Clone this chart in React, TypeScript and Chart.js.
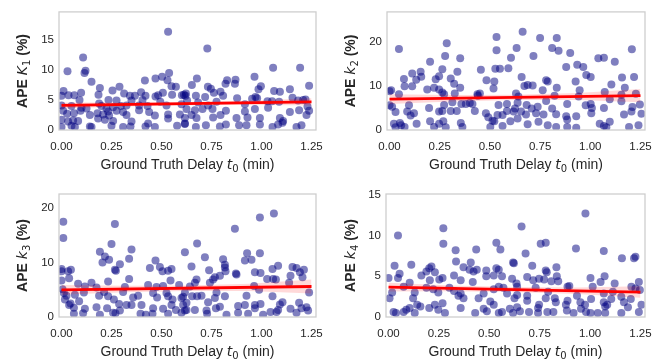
import React, { useEffect, useRef } from "react";
import { Chart, registerables } from "chart.js";

Chart.register(...registerables);

// ---------- data ----------
const X_TICKS = [0, 0.25, 0.5, 0.75, 1.0, 1.25];
const K1_TICKS = [0, 5, 10, 15];
const K2_TICKS = [0, 10, 20];
const K3_TICKS = [0, 10, 20];
const K4_TICKS = [0, 5, 10, 15];

const FIT_X = [0, 1.25];
const BAND_X = [0, 0.3125, 0.625, 0.9375, 1.25];

const K1_FIT = [4.1, 4.7];
const K1_LO = [3.6, 3.93, 4.13, 4.23, 4.1];
const K1_HI = [4.6, 4.57, 4.67, 4.87, 5.3];

const K2_FIT = [7.0, 7.8];
const K2_LO = [5.9, 6.45, 6.8, 6.8, 6.3];
const K2_HI = [8.1, 7.95, 8.0, 8.4, 9.3];

const K3_FIT = [5.0, 5.6];
const K3_LO = [4.1, 4.55, 4.8, 4.8, 4.3];
const K3_HI = [5.9, 5.75, 5.8, 6.1, 6.9];

const K4_FIT = [3.67, 3.06];
const K4_LO = [3.12, 3.17, 3.07, 2.81, 2.36];
const K4_HI = [4.22, 3.87, 3.67, 3.61, 3.76];

const K1_POINTS: [number, number][] = [
  [0.533, 16.4], [0.108, 12.1], [0.03, 9.8], [0.12, 9.9], [0.115, 9.5], [0.15, 8.06], [0.417, 8.27], [0.47, 8.6],
  [0.503, 8.9], [0.538, 9.5], [0.53, 8.3], [0.55, 7.3], [0.572, 7.2], [0.192, 7.0], [0.29, 7.2], [0.255, 6.6],
  [0.185, 5.9], [0.01, 6.5], [0.0, 5.7], [0.035, 5.8], [0.064, 5.8], [0.098, 6.2], [0.09, 5.0], [0.313, 6.1],
  [0.342, 5.7], [0.367, 5.7], [0.398, 6.3], [0.42, 5.7], [0.47, 5.6], [0.483, 5.8], [0.507, 6.2], [0.553, 5.9],
  [0.602, 5.8], [0.622, 6.1], [0.235, 5.0], [0.275, 4.9], [0.35, 4.9], [0.405, 5.0], [0.494, 4.7], [0.188, 4.4],
  [0.0, 4.1], [0.05, 4.0], [0.1, 3.7], [0.125, 3.6], [0.2, 4.0], [0.225, 3.6], [0.258, 3.8], [0.297, 4.0],
  [0.325, 4.1], [0.388, 4.1], [0.43, 4.0], [0.525, 4.1], [0.6, 4.3], [0.008, 3.2], [0.028, 2.7], [0.062, 2.8],
  [0.095, 3.2], [0.142, 2.5], [0.18, 2.8], [0.208, 2.6], [0.233, 3.1], [0.238, 2.4], [0.275, 3.2], [0.308, 3.0],
  [0.325, 2.5], [0.388, 3.3], [0.438, 3.0], [0.467, 2.4], [0.533, 2.6], [0.592, 2.6], [0.0, 1.7], [0.033, 1.4],
  [0.058, 1.6], [0.083, 1.5], [0.183, 1.9], [0.217, 1.7], [0.258, 1.5], [0.35, 1.4], [0.433, 1.1], [0.533, 1.9],
  [0.617, 2.0], [0.0, 0.5], [0.05, 0.7], [0.067, 0.5], [0.142, 0.6], [0.15, 0.5], [0.25, 0.7], [0.308, 0.5],
  [0.345, 0.6], [0.42, 0.6], [0.467, 0.5], [0.578, 0.7], [0.617, 1.0],
  [0.729, 13.6], [1.058, 10.4], [1.193, 10.4], [0.677, 8.6], [0.965, 8.9], [0.87, 8.4], [0.828, 8.3], [0.82, 7.7],
  [0.867, 7.7], [0.652, 7.5], [0.732, 7.2], [0.747, 6.9], [0.762, 6.2], [0.795, 6.4], [0.808, 5.7], [0.997, 7.3],
  [0.985, 6.8], [1.063, 6.5], [1.092, 6.4], [1.142, 6.8], [1.238, 7.4], [0.612, 5.9], [0.62, 5.7], [0.672, 5.7],
  [0.718, 5.5], [0.878, 5.3], [0.953, 5.2], [0.97, 5.5], [0.978, 5.3], [1.03, 4.8], [1.053, 4.8], [1.088, 4.7],
  [1.155, 5.4], [1.183, 4.9], [1.208, 5.0], [1.22, 5.1], [0.628, 4.9], [0.683, 4.6], [0.733, 4.1], [0.775, 4.7],
  [0.917, 4.3], [0.625, 3.5], [0.667, 3.3], [0.705, 3.5], [0.755, 3.5], [0.822, 3.2], [0.917, 3.1], [0.967, 3.5],
  [1.033, 3.7], [1.142, 3.0], [1.188, 3.3], [1.23, 3.9], [1.238, 3.2], [0.65, 2.5], [0.675, 2.0], [0.758, 2.1],
  [0.795, 2.5], [0.875, 2.0], [0.93, 2.1], [0.992, 2.0], [1.092, 2.0], [1.108, 1.5], [0.617, 1.1], [0.672, 0.5],
  [0.722, 0.8], [0.792, 0.6], [0.822, 0.9], [0.888, 0.8], [0.925, 0.8], [0.992, 0.9], [1.055, 0.5], [1.083, 0.9],
  [1.105, 1.2], [1.175, 0.5], [1.2, 0.8], [1.225, 2.5],
];

const K2_POINTS: [number, number][] = [
  [0.533, 21.1], [0.285, 19.7], [0.047, 18.4], [0.533, 18.1], [0.605, 16.4], [0.277, 16.8], [0.202, 15.5], [0.352, 16.3],
  [0.263, 13.8], [0.455, 13.7], [0.527, 13.9], [0.55, 13.9], [0.592, 14.0], [0.338, 13.2], [0.113, 12.8], [0.155, 13.2],
  [0.158, 12.1], [0.133, 11.4], [0.072, 11.6], [0.247, 12.2], [0.23, 11.5], [0.305, 11.7], [0.322, 10.5], [0.352, 9.6],
  [0.483, 11.3], [0.522, 11.0], [0.113, 9.9], [0.075, 9.9], [0.188, 9.2], [0.222, 9.6], [0.247, 9.2], [0.263, 8.5],
  [0.272, 8.1], [0.008, 9.0], [0.047, 8.1], [0.325, 8.3], [0.438, 8.1], [0.45, 8.3], [0.44, 7.8], [0.518, 9.4],
  [0.0, 8.8], [0.0, 5.6], [0.013, 5.3], [0.03, 4.1], [0.097, 5.6], [0.105, 3.3], [0.122, 3.8], [0.197, 5.0],
  [0.272, 5.7], [0.263, 4.3], [0.247, 4.2], [0.313, 6.3], [0.358, 5.9], [0.38, 5.9], [0.4, 6.1], [0.413, 5.9],
  [0.305, 4.3], [0.335, 4.3], [0.425, 4.3], [0.48, 3.8], [0.492, 2.9], [0.513, 2.1], [0.522, 2.0], [0.538, 3.4],
  [0.543, 5.7], [0.563, 3.4], [0.585, 4.3], [0.625, 4.9], [0.585, 5.9], [0.618, 4.2], [0.022, 1.4], [0.052, 1.6],
  [0.058, 1.1], [0.135, 1.4], [0.03, 0.6], [0.075, 0.7], [0.202, 2.0], [0.222, 0.7], [0.247, 1.4], [0.268, 2.0],
  [0.28, 0.6], [0.355, 1.6], [0.363, 0.7], [0.502, 0.7], [0.563, 0.9], [0.602, 2.0], [0.088, 4.2],
  [0.663, 22.3], [0.75, 20.9], [0.833, 20.9], [0.81, 18.6], [0.842, 18.0], [0.633, 18.6], [0.717, 16.8], [0.9, 17.5],
  [1.04, 16.3], [1.068, 16.4], [1.122, 15.5], [1.207, 18.3], [0.88, 14.3], [0.935, 14.8], [0.965, 14.3], [0.98, 12.5],
  [1.002, 12.0], [0.927, 11.0], [0.658, 12.0], [0.78, 11.3], [0.788, 11.0], [0.688, 10.2], [0.713, 10.1], [0.672, 10.0],
  [0.833, 9.6], [0.763, 9.0], [1.105, 10.3], [1.158, 11.9], [1.218, 12.0], [1.172, 9.6], [1.155, 8.0], [1.227, 8.2],
  [1.072, 8.6], [0.947, 9.0], [0.63, 8.3], [0.642, 7.6], [0.822, 7.8], [0.942, 7.6], [1.097, 7.0], [1.247, 5.8],
  [1.21, 5.2], [1.155, 6.5], [0.638, 6.2], [0.683, 5.7], [0.708, 4.9], [0.738, 5.3], [0.78, 6.6], [0.81, 4.9],
  [0.885, 5.9], [0.977, 5.6], [1.002, 5.9], [1.008, 5.0], [1.068, 5.0], [0.655, 4.2], [0.68, 3.5], [0.73, 3.8],
  [0.767, 3.5], [0.83, 3.6], [0.88, 3.1], [0.93, 3.1], [1.005, 3.8], [1.168, 3.5], [1.205, 4.2], [1.255, 3.7],
  [0.885, 2.4], [0.742, 1.9], [0.788, 1.1], [0.688, 1.3], [0.638, 2.6], [0.83, 0.7], [0.885, 0.7], [1.047, 1.4],
  [1.068, 0.9], [1.097, 1.9], [1.08, 0.6], [1.193, 0.7], [1.24, 1.1], [0.93, 0.5],
];

const K3_POINTS: [number, number][] = [
  [0.009, 17.5], [0.267, 17.1], [0.009, 14.5], [0.25, 13.4], [0.192, 12.0], [0.35, 12.4], [0.217, 11.1], [0.205, 10.0],
  [0.238, 10.5], [0.338, 10.7], [0.292, 9.7], [0.47, 10.4], [0.442, 9.0], [0.492, 9.2], [0.505, 8.4], [0.533, 8.5],
  [0.55, 8.8], [0.617, 11.9], [0.267, 8.7], [0.272, 8.5], [0.0, 8.8], [0.0, 8.4], [0.033, 8.4], [0.047, 8.7],
  [0.0, 6.7], [0.038, 7.1], [0.338, 7.0], [0.233, 6.5], [0.15, 6.3], [0.083, 6.1], [0.117, 5.6], [0.433, 5.9],
  [0.508, 5.7], [0.475, 5.5], [0.545, 6.7], [0.588, 5.9], [0.005, 5.1], [0.012, 4.4], [0.025, 3.9], [0.067, 4.1],
  [0.112, 4.5], [0.175, 5.4], [0.188, 3.9], [0.213, 4.6], [0.233, 3.8], [0.262, 3.2], [0.308, 4.6], [0.317, 5.5],
  [0.358, 3.6], [0.383, 3.9], [0.458, 4.4], [0.478, 3.6], [0.525, 4.4], [0.533, 3.8], [0.555, 3.2], [0.6, 3.5],
  [0.017, 3.2], [0.038, 2.2], [0.045, 2.5], [0.062, 1.7], [0.088, 2.9], [0.117, 1.5], [0.175, 1.8], [0.228, 1.6],
  [0.288, 2.4], [0.325, 2.2], [0.35, 2.2], [0.4, 2.2], [0.458, 1.6], [0.508, 1.5], [0.55, 2.2], [0.572, 1.3],
  [0.608, 2.2], [0.062, 0.6], [0.108, 0.7], [0.192, 0.4], [0.258, 0.8], [0.27, 0.7], [0.292, 1.2], [0.395, 0.6],
  [0.422, 0.4], [0.455, 0.6], [0.533, 0.6], [0.6, 0.8], [0.625, 1.3],
  [1.062, 19.0], [0.992, 18.3], [0.867, 16.2], [0.678, 13.5], [0.717, 11.0], [0.808, 10.6], [0.928, 11.7], [0.992, 11.7],
  [0.917, 10.4], [0.95, 10.5], [0.817, 9.6], [0.817, 9.1], [0.82, 8.4], [0.738, 8.6], [0.65, 9.3], [0.872, 8.0],
  [0.875, 7.8], [0.967, 8.2], [0.995, 8.1], [1.055, 8.8], [1.083, 9.4], [1.155, 9.2], [1.175, 9.0], [1.192, 8.2],
  [1.212, 8.7], [1.205, 7.3], [1.145, 7.6], [1.028, 7.0], [1.058, 7.0], [1.072, 6.9], [0.675, 6.9], [0.667, 6.3],
  [0.742, 6.3], [0.758, 6.9], [0.767, 7.3], [0.792, 7.6], [1.138, 6.3], [0.642, 5.6], [0.963, 5.7], [0.988, 5.0],
  [0.617, 4.5], [0.775, 4.5], [1.238, 4.5], [0.608, 3.7], [0.653, 3.8], [0.678, 3.8], [0.7, 3.9], [0.733, 2.7],
  [0.767, 3.5], [0.817, 3.8], [0.925, 3.9], [1.055, 3.8], [1.105, 2.7], [1.092, 2.3], [1.188, 2.6], [0.625, 2.6],
  [0.617, 1.2], [0.667, 1.3], [0.725, 1.2], [0.772, 1.6], [0.792, 1.9], [0.883, 2.0], [0.917, 2.2], [0.967, 2.2],
  [0.967, 1.6], [0.995, 2.4], [1.045, 0.9], [1.075, 0.9], [1.083, 1.3], [1.145, 1.5], [1.2, 1.6], [1.225, 1.8],
  [1.233, 1.2], [0.825, 0.4], [0.728, 0.6], [0.933, 0.6], [1.008, 0.4], [1.175, 0.8], [0.883, 0.8],
];

const K4_POINTS: [number, number][] = [
  [0.272, 10.9], [0.047, 10.0], [0.272, 9.0], [0.535, 9.1], [0.555, 8.3], [0.333, 8.2], [0.435, 8.3], [0.335, 6.8],
  [0.408, 6.7], [0.03, 6.3], [0.113, 6.4], [0.202, 6.0], [0.213, 6.2], [0.372, 6.1], [0.402, 5.8], [0.422, 5.6],
  [0.438, 5.8], [0.485, 5.7], [0.535, 6.0], [0.547, 5.8], [0.618, 6.7], [0.188, 5.6], [0.23, 5.5], [0.055, 5.3],
  [0.047, 4.8], [0.0, 4.8], [0.163, 5.1], [0.268, 4.8], [0.325, 5.1], [0.358, 4.5], [0.418, 4.3], [0.485, 5.0],
  [0.522, 5.1], [0.563, 5.0], [0.613, 4.7], [0.205, 4.5], [0.252, 4.6], [0.105, 4.2], [0.075, 3.7], [0.13, 3.0],
  [0.018, 3.0], [0.005, 2.3], [0.122, 2.3], [0.188, 3.6], [0.222, 3.4], [0.247, 3.0], [0.302, 3.6], [0.325, 3.2],
  [0.347, 2.6], [0.372, 2.3], [0.358, 2.9], [0.447, 2.3], [0.472, 2.9], [0.522, 3.4], [0.547, 3.7], [0.57, 3.6],
  [0.588, 2.9], [0.625, 2.3], [0.142, 1.5], [0.158, 1.3], [0.105, 1.1], [0.088, 0.9], [0.025, 0.6], [0.037, 0.5],
  [0.075, 0.6], [0.13, 0.5], [0.202, 1.1], [0.23, 1.5], [0.247, 0.9], [0.28, 0.5], [0.268, 1.7], [0.358, 1.1],
  [0.43, 0.5], [0.472, 1.0], [0.488, 0.7], [0.505, 1.9], [0.522, 1.5], [0.547, 0.5], [0.563, 0.6], [0.602, 1.0],
  [0.618, 0.5], [0.66, 11.1],
  [0.977, 12.7], [0.755, 9.0], [0.78, 9.1], [0.93, 8.4], [1.068, 8.1], [0.68, 7.8], [1.158, 7.2], [1.218, 7.2],
  [1.225, 7.4], [0.622, 6.6], [0.713, 6.3], [0.78, 5.7], [0.785, 5.5], [0.833, 6.1], [0.688, 4.9], [0.718, 4.5],
  [0.747, 4.7], [0.772, 4.6], [0.808, 4.4], [0.835, 5.0], [0.842, 4.4], [0.888, 3.7], [0.897, 3.8], [1.002, 4.8],
  [1.013, 3.7], [1.072, 5.0], [1.052, 4.3], [1.122, 4.1], [1.205, 3.7], [1.225, 3.5], [1.242, 4.3], [1.247, 3.3],
  [0.635, 4.1], [0.638, 3.7], [0.73, 3.6], [0.792, 3.1], [0.935, 2.6], [1.068, 2.9], [1.113, 3.1], [1.155, 2.5],
  [1.202, 2.2], [0.638, 2.7], [0.688, 2.6], [0.688, 2.0], [0.78, 2.3], [0.825, 2.3], [0.83, 1.8], [0.747, 1.5],
  [0.888, 2.0], [0.88, 1.5], [0.952, 1.8], [0.975, 1.5], [1.005, 2.2], [1.075, 1.3], [1.085, 1.5], [1.068, 1.8],
  [1.105, 2.2], [1.168, 1.8], [1.188, 1.2], [1.255, 1.5], [0.638, 1.2], [0.652, 0.7], [0.697, 0.6], [0.742, 1.1],
  [0.742, 0.5], [0.788, 0.6], [0.818, 0.6], [0.885, 0.8], [0.918, 0.5], [0.955, 1.0], [0.98, 0.6], [1.002, 0.5],
  [1.038, 0.5], [1.075, 0.5], [1.155, 0.5], [1.242, 0.6],
];

// ---------- style / layout ----------
const TEXT = "#262626";
const SANS = "'Liberation Sans', Arial, sans-serif";
const MATH = "'DejaVu Sans', sans-serif";
const X_MIN = -0.0125;
const X_MAX = 1.2725;

type Panel = {
  points: [number, number][];
  fit: number[];
  lo: number[];
  hi: number[];
  yMax: number;
  yTicks: number[];
  sym: string;
  sub: string;
  pos: { left: number; top: number; width: number; height: number };
  area: { left: number; top: number; right: number; bottom: number };
  yTitleX: number;
};

const PANELS: Panel[] = [
  {
    points: K1_POINTS, fit: K1_FIT, lo: K1_LO, hi: K1_HI, yMax: 19.7, yTicks: K1_TICKS, sym: "K", sub: "1",
    pos: { left: 0, top: 0, width: 333, height: 180 },
    area: { left: 59, top: 6, right: 316, bottom: 130 }, yTitleX: 27,
  },
  {
    points: K2_POINTS, fit: K2_FIT, lo: K2_LO, hi: K2_HI, yMax: 26.8, yTicks: K2_TICKS, sym: "k", sub: "2",
    pos: { left: 333, top: 0, width: 334, height: 180 },
    area: { left: 54, top: 6, right: 312, bottom: 130 }, yTitleX: 22,
  },
  {
    points: K3_POINTS, fit: K3_FIT, lo: K3_LO, hi: K3_HI, yMax: 22.6, yTicks: K3_TICKS, sym: "k", sub: "3",
    pos: { left: 0, top: 180, width: 333, height: 180 },
    area: { left: 59, top: 14, right: 316, bottom: 137 }, yTitleX: 27,
  },
  {
    points: K4_POINTS, fit: K4_FIT, lo: K4_LO, hi: K4_HI, yMax: 15.1, yTicks: K4_TICKS, sym: "k", sub: "4",
    pos: { left: 333, top: 180, width: 334, height: 180 },
    area: { left: 53, top: 14, right: 312, bottom: 137 }, yTitleX: 22,
  },
];

type Seg = { t: string; font: string; dy?: number };

function drawSegs(ctx: CanvasRenderingContext2D, segs: Seg[]) {
  let total = 0;
  const widths = segs.map((s) => {
    ctx.font = s.font;
    const w = ctx.measureText(s.t).width;
    total += w;
    return w;
  });
  let x = -total / 2;
  segs.forEach((s, i) => {
    ctx.font = s.font;
    ctx.fillText(s.t, x, s.dy || 0);
    x += widths[i];
  });
}

const decor = {
  id: "decor",
  afterDatasetsDraw(chart: any) {
    const { ctx, chartArea: a } = chart;
    ctx.save();
    ctx.strokeStyle = "#cccccc";
    ctx.lineWidth = 1.25;
    ctx.strokeRect(a.left, a.top, a.right - a.left, a.bottom - a.top);
    ctx.restore();
  },
  afterDraw(chart: any, _args: any, opts: any) {
    const { ctx, chartArea: a } = chart;
    ctx.save();
    ctx.fillStyle = TEXT;
    ctx.textBaseline = "alphabetic";
    ctx.textAlign = "left";
    // x title
    ctx.save();
    ctx.translate((a.left + a.right) / 2, a.bottom + 38.5);
    drawSegs(ctx, [
      { t: "Ground Truth Delay ", font: `14px ${SANS}` },
      { t: "t", font: `italic 14px ${MATH}` },
      { t: "0", font: `10px ${MATH}`, dy: 3 },
      { t: " (min)", font: `14px ${SANS}` },
    ]);
    ctx.restore();
    // y title
    ctx.save();
    ctx.translate(opts.yTitleX, (a.top + a.bottom) / 2);
    ctx.rotate(-Math.PI / 2);
    drawSegs(ctx, [
      { t: "APE ", font: `bold 14px ${SANS}` },
      { t: opts.sym, font: `italic 14px ${MATH}` },
      { t: opts.sub, font: `10px ${MATH}`, dy: 3 },
      { t: " (%)", font: `bold 14px ${SANS}` },
    ]);
    ctx.restore();
    ctx.restore();
  },
};

function PanelChart({ p }: { p: Panel }) {
  const ref = useRef<HTMLCanvasElement | null>(null);
  useEffect(() => {
    if (!ref.current) return;
    const fitData = FIT_X.map((x, i) => ({ x, y: p.fit[i] }));
    const loData = BAND_X.map((x, i) => ({ x, y: p.lo[i] }));
    const hiData = BAND_X.map((x, i) => ({ x, y: p.hi[i] }));
    const ptData = p.points.map(([x, y]) => ({ x, y }));
    const chart = new Chart(ref.current, {
      type: "scatter",
      data: {
        datasets: [
          {
            type: "line", data: fitData, borderColor: "#ff0000", borderWidth: 2.8,
            pointRadius: 0, tension: 0, fill: false, order: 0,
          } as any,
          {
            type: "line", data: loData, borderWidth: 0, borderColor: "rgba(0,0,0,0)",
            pointRadius: 0, tension: 0, fill: false, order: 1,
          } as any,
          {
            type: "line", data: hiData, borderWidth: 0, borderColor: "rgba(0,0,0,0)",
            backgroundColor: "rgba(255,0,0,0.15)", pointRadius: 0, tension: 0, fill: "-1", order: 1,
          } as any,
          {
            type: "scatter", data: ptData, pointRadius: 4, pointHoverRadius: 4,
            pointBackgroundColor: "rgba(0,0,128,0.5)", pointBorderWidth: 0,
            pointBorderColor: "rgba(0,0,0,0)", clip: 0, order: 3,
          } as any,
        ],
      },
      options: {
        animation: false,
        responsive: false,
        devicePixelRatio: 1,
        events: [],
        layout: {
          padding: {
            left: 0,
            top: p.area.top,
            right: p.pos.width - p.area.right,
            bottom: 0,
          },
        },
        plugins: {
          legend: { display: false },
          tooltip: { enabled: false },
          decor: { yTitleX: p.yTitleX, sym: p.sym, sub: p.sub },
        } as any,
        scales: {
          x: {
            type: "linear",
            min: X_MIN,
            max: X_MAX,
            grid: { display: false, drawTicks: false },
            border: { display: false },
            afterBuildTicks: (scale: any) => {
              scale.ticks = X_TICKS.map((v) => ({ value: v }));
            },
            afterFit: (scale: any) => {
              scale.height = p.pos.height - p.area.bottom;
            },
            ticks: {
              padding: 10,
              color: TEXT,
              font: { family: SANS, size: 11.5 },
              maxRotation: 0,
              callback: (v: any) => Number(v).toFixed(2),
            },
          },
          y: {
            type: "linear",
            min: 0,
            max: p.yMax,
            grid: { display: false, drawTicks: false },
            border: { display: false },
            afterBuildTicks: (scale: any) => {
              scale.ticks = p.yTicks.map((v) => ({ value: v }));
            },
            afterFit: (scale: any) => {
              scale.width = p.area.left;
            },
            ticks: {
              padding: 5,
              color: TEXT,
              font: { family: SANS, size: 11.5 },
              callback: (v: any) => String(v),
            },
          },
        },
      },
      plugins: [decor as any],
    });
    return () => chart.destroy();
  }, [p]);
  return (
    <canvas
      ref={ref}
      width={p.pos.width}
      height={p.pos.height}
      style={{
        position: "absolute",
        left: p.pos.left,
        top: p.pos.top,
        width: p.pos.width,
        height: p.pos.height,
      }}
    />
  );
}

export default function App() {
  return (
    <div
      style={{
        position: "absolute",
        left: 0,
        top: 0,
        width: 667,
        height: 360,
        background: "#ffffff",
        overflow: "hidden",
      }}
    >
      {PANELS.map((p, i) => (
        <PanelChart key={i} p={p} />
      ))}
    </div>
  );
}
